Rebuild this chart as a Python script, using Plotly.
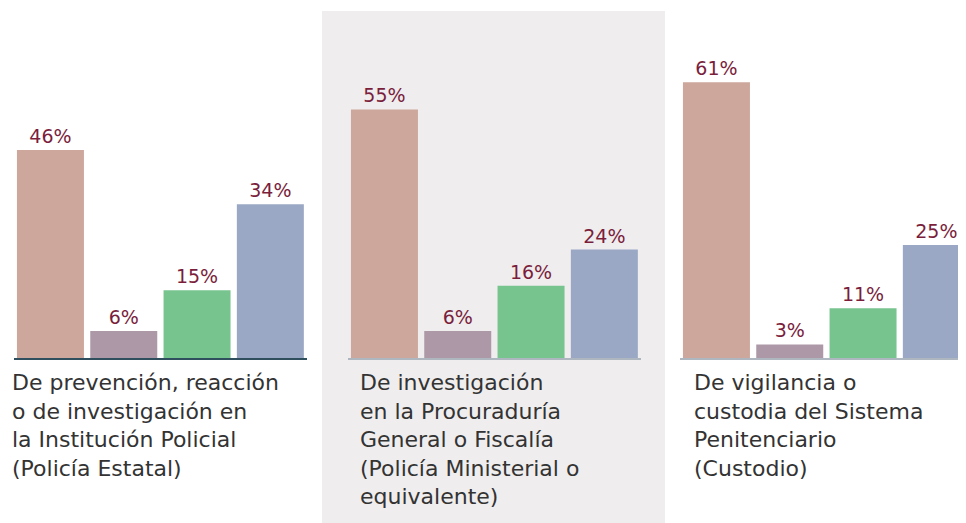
import plotly.graph_objects as go

# The page body has an 8px margin, so the figure is drawn 8px lower/right.
OFF = 8
W, H = 966 - OFF, 523 - OFF

group_labels = [
    ["De prevención, reacción", "o de investigación en", "la Institución Policial", "(Policía Estatal)"],
    ["De investigación", "en la Procuraduría", "General o Fiscalía", "(Policía Ministerial o", "equivalente)"],
    ["De vigilancia o", "custodia del Sistema", "Penitenciario", "(Custodio)"],
]
categories = ["A", "B", "C", "D"]
values_g1 = [46, 6, 15, 34]
values_g2 = [55, 6, 16, 24]
values_g3 = [61, 3, 11, 25]
all_values = [values_g1, values_g2, values_g3]
bar_colors = ["#CDA79C", "#AD98A8", "#78C48F", "#9AA8C5"]

FONT = "DejaVu Sans"

# layout constants (target pixels in the 966x523 screenshot)
slot = 73.3
group_left = [13.8, 347.8, 679.8]
baseline_y = 358
px_per_unit = 4.52
ymax = 70
line_colors = ["#2F4F5F", "#AEB6BF", "#AEB6BF"]


def px(x):
    return (x - OFF) / W


def py(y):
    return 1 - (y - OFF) / H


fig = go.Figure()
y0 = py(baseline_y)
y1 = py(baseline_y - ymax * px_per_unit)

for i, vals in enumerate(all_values):
    xa = "x" if i == 0 else f"x{i+1}"
    ya = "y" if i == 0 else f"y{i+1}"
    fig.add_trace(go.Bar(
        x=categories, y=vals, xaxis=xa, yaxis=ya,
        marker=dict(color=bar_colors, line=dict(width=0)),
        text=[f"{v}%" for v in vals], textposition="outside",
        textfont=dict(color="#7A1E3C", size=19, family=FONT),
        cliponaxis=False, showlegend=False, hoverinfo="skip",
    ))
    left = group_left[i]
    right = min(left + 4 * slot, 966)
    span = (right - left) / slot
    xkey = "xaxis" if i == 0 else f"xaxis{i+1}"
    ykey = "yaxis" if i == 0 else f"yaxis{i+1}"
    fig.update_layout({
        xkey: dict(domain=[px(left), min(px(right), 1)], anchor=ya, range=[-0.5, -0.5 + span],
                   showticklabels=False, ticks="", showgrid=False, zeroline=False,
                   showline=True, linecolor=line_colors[i], linewidth=1.5, fixedrange=True),
        ykey: dict(domain=[y0, y1], anchor=xa, range=[0, ymax], visible=False,
                   showgrid=False, zeroline=False),
    })

fig.update_layout(bargap=0.086)

# gray panel behind middle group
fig.add_shape(type="rect", xref="paper", yref="paper",
              x0=px(322), x1=px(665), y0=0, y1=py(11),
              fillcolor="#EFEDEE", line=dict(width=0), layer="below")

label_x = [10, 358, 692]
for i, lines in enumerate(group_labels):
    fig.add_annotation(text="<br>".join(lines), xref="paper", yref="paper",
                       x=px(label_x[i]), y=py(368),
                       xanchor="left", yanchor="top",
                       align="left", showarrow=False,
                       font=dict(size=22, color="#333333", family=FONT))

fig.update_layout(width=W, height=H, margin=dict(l=0, r=0, t=0, b=0),
                  paper_bgcolor="white", plot_bgcolor="rgba(0,0,0,0)",
                  font=dict(family=FONT))

fig.write_html("out.html", config={"displayModeBar": False})
